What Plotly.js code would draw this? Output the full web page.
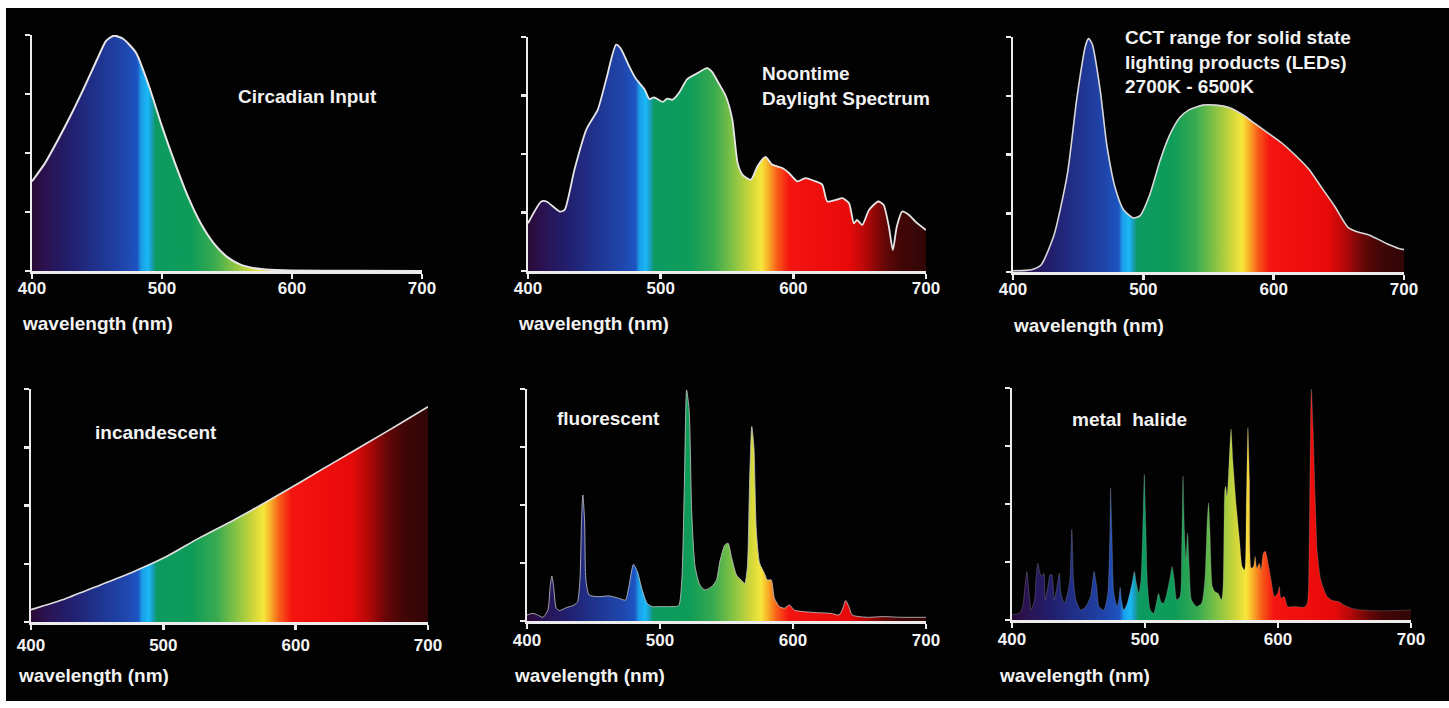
<!DOCTYPE html>
<html>
<head>
<meta charset="utf-8">
<script src="https://cdn.plot.ly/plotly-3.0.1.min.js"></script>
<style>html,body{margin:0;padding:0;background:#fff;}#chart{width:1449px;height:708px;}</style>
</head>
<body>
<div id="chart"></div>
<script>
// ---------- data (wavelength nm, relative intensity 0..1) ----------
const circadianWl  = [400,410,420,430,440,450,457,463,470,480,490,500,510,520,530,540,550,560,570,580,600,650,700];
const circadianVal = [0.38,0.457,0.556,0.662,0.776,0.896,0.975,0.997,0.984,0.925,0.783,0.613,0.457,0.315,0.2,0.116,0.06,0.028,0.013,0.006,0.002,0.001,0.0];

const daylightWl  = [400,410,414,424,427.6,435,444,452.6,459,466.4,470,476,481.5,487.7,491.5,495,501.5,505,509,514,520,526.6,535,539,544,549,554,558,561.6,568,573,579,584,591.7,596.7,603,609,616.8,621.8,625.6,632,637,642,645.6,648,652,657,664,668,672,675,678,682,687,692,700];
const daylightVal = [0.204,0.297,0.297,0.254,0.261,0.433,0.605,0.69,0.82,0.967,0.95,0.878,0.82,0.778,0.735,0.742,0.723,0.737,0.732,0.763,0.82,0.842,0.867,0.849,0.8,0.749,0.648,0.462,0.412,0.39,0.448,0.488,0.455,0.44,0.419,0.383,0.397,0.383,0.369,0.297,0.304,0.311,0.29,0.204,0.218,0.197,0.261,0.297,0.283,0.19,0.089,0.19,0.254,0.24,0.211,0.175];

const ledWl  = [400,414,421.5,431.6,441.8,449,455.7,458,460.8,467,472,478.5,484.8,492.4,497.5,505,512.6,520,527.8,535,545.6,555.7,565.8,576,586,596,606,616,626.6,636.7,646.8,657,664.6,672,680,687,696,700];
const ledVal = [0.005,0.01,0.03,0.16,0.42,0.74,0.965,0.993,0.97,0.77,0.54,0.356,0.265,0.23,0.24,0.33,0.47,0.58,0.656,0.69,0.71,0.71,0.70,0.67,0.63,0.59,0.55,0.50,0.44,0.36,0.28,0.19,0.17,0.16,0.14,0.12,0.10,0.095];

const incandWl  = [400,426,452,477,502,527,553,578,603.5,629,654,679,700];
const incandVal = [0.053,0.1,0.158,0.215,0.28,0.36,0.437,0.516,0.60,0.685,0.768,0.852,0.924];

const fluorWl  = [400,404.5,408,412,415.7,417.4,418.7,420,422,424.4,429.4,435.6,438,439.8,441,442,443.3,444.3,446.8,454,461.7,469,474,476.6,480,483,486.6,490.3,494,499,509,514,516.4,518.4,520,521.9,523.9,526.4,530,533.8,538.8,542.5,545,548.8,551.2,553.7,557.5,561,563.7,565.7,567.4,569,570.6,572.4,574.9,578.6,580.6,583.6,586,589.8,593.5,597.3,601,608.5,618.4,628.4,634.6,637,639.6,642,644.5,655.7,668,680.6,700];
const fluorVal = [0.026,0.033,0.026,0.016,0.047,0.148,0.194,0.148,0.055,0.045,0.057,0.069,0.083,0.177,0.435,0.543,0.435,0.177,0.112,0.105,0.108,0.098,0.09,0.148,0.244,0.213,0.134,0.076,0.062,0.062,0.062,0.066,0.177,0.608,0.996,0.91,0.464,0.234,0.155,0.134,0.148,0.177,0.256,0.328,0.335,0.277,0.198,0.177,0.162,0.234,0.608,0.838,0.75,0.392,0.249,0.205,0.177,0.177,0.098,0.062,0.055,0.069,0.047,0.04,0.036,0.033,0.026,0.047,0.088,0.062,0.026,0.016,0.019,0.016,0.016];

const halideWl  = [400,405.7,408,410,411.2,412.4,414.4,417,418,419.4,421,422.4,424,425,427,428.6,430,431.8,433.8,435.6,436.8,439.3,441.8,443.5,445,446.3,448,451.7,455.5,459,461.7,463.7,465.4,469,472,473.6,474.1,475.1,476.6,479,480.3,481.3,482.3,484,486.6,490.3,492,493.5,495.3,497,498.5,499.5,500.5,502,504,506.5,509,510.2,512,514,516.4,519,520.4,522,523.9,526.4,527.6,528.6,529.6,530.8,532,533.3,535,538.8,542.5,545,546.8,547.8,548.8,550.7,552.5,555,557.5,558.7,560,560.7,561.7,563.2,564.7,566.2,568.7,571.1,573.1,574.9,576.1,577.4,578.6,579.9,581.6,582.8,584.1,586,587.3,589,590.5,592.3,594.8,597.3,599.8,601,602.2,604.7,607.2,613.4,619.7,622,623.4,624.6,625.1,626.4,627.9,629.6,632.1,634.6,637,640.8,645.8,649.5,655.7,663.2,673,683,698,700];
const halideVal = [0.022,0.029,0.058,0.159,0.209,0.144,0.043,0.087,0.173,0.245,0.202,0.188,0.202,0.087,0.144,0.195,0.195,0.087,0.144,0.202,0.115,0.072,0.115,0.173,0.39,0.173,0.087,0.043,0.058,0.101,0.209,0.144,0.058,0.043,0.115,0.375,0.57,0.375,0.115,0.058,0.087,0.141,0.087,0.043,0.072,0.159,0.209,0.159,0.115,0.173,0.433,0.628,0.433,0.144,0.043,0.029,0.087,0.115,0.079,0.072,0.115,0.188,0.231,0.173,0.087,0.101,0.317,0.62,0.39,0.26,0.375,0.231,0.087,0.058,0.072,0.173,0.433,0.505,0.39,0.144,0.123,0.115,0.087,0.144,0.563,0.577,0.534,0.678,0.823,0.678,0.49,0.346,0.231,0.216,0.462,0.83,0.606,0.224,0.231,0.274,0.224,0.245,0.216,0.289,0.296,0.253,0.173,0.101,0.115,0.144,0.094,0.101,0.058,0.058,0.055,0.072,0.317,0.895,0.995,0.823,0.534,0.289,0.173,0.13,0.101,0.084,0.079,0.065,0.05,0.043,0.04,0.04,0.043,0.043];

const xTickVals = [400,500,600,700];
const xTickText = ['400','500','600','700'];
const yTickVals = [0,0.25,0.5,0.75,1];
const axisTitle = 'wavelength (nm)';
const panelTitles = ['Circadian Input','Noontime<br>Daylight Spectrum','CCT range for solid state<br>lighting products (LEDs)<br>2700K - 6500K','incandescent','fluorescent','metal\u00a0 halide'];

// ---------- styling ----------
const W = 1449, H = 708;
const px = x => x / W;
const py = y => 1 - y / H;

// spectrum colours (nm -> colour)
const spectrumStops = [[400,'#2a0a35'],[410,'#2b1250'],[430,'#221f6e'],[455,'#1f3794'],[472,'#1f47ae'],[481,'#1d55c2'],[484,'#1a9ee8'],[489,'#1ab8f6'],[492,'#1a9ec0'],[495,'#0d9a62'],[522,'#0f9c58'],[540,'#38aa50'],[555,'#86c344'],[568,'#cfd63a'],[576,'#f6e63a'],[581,'#f8b028'],[588,'#f85a18'],[597,'#f41410'],[642,'#e80a0a'],[655,'#b40808'],[668,'#6a0707'],[680,'#440606'],[700,'#300606']];
const colorscale = spectrumStops.map(s => [(s[0]-400)/300, s[1]]);

// panel pixel boxes: [xLeft(400nm), xRight(700nm), yBottom, yTop]
const boxes = [
  [32, 422, 271, 35],
  [528, 926, 271, 37],
  [1013, 1404, 272, 37],
  [31, 428, 622, 389],
  [527, 926, 621, 389],
  [1012, 1411, 620, 388]
];
const series = [
  [circadianWl, circadianVal, {color:'#e6e6e6', width:2}],
  [daylightWl, daylightVal, {color:'#e6e6e6', width:1.8}],
  [ledWl, ledVal, {color:'#d8d8d8', width:1.6}],
  [incandWl, incandVal, {color:'#e0e0e0', width:1.6}],
  [fluorWl, fluorVal, {color:'rgba(200,200,200,0.8)', width:1}],
  [halideWl, halideVal, {color:'rgba(190,190,190,0.35)', width:0.7}]
];
const titlePos = [ [236, 97], [760, 86], [1123, 62], [93, 432], [555, 418], [1070, 419] ];
const axisTitlePos = [ [20, 323], [516, 323], [1011, 325], [16, 675], [512, 675], [997, 675] ];
const tickStandoff = [-5, -5, -5, 1, -3, -3];

const axisColor = '#ececec';
const data = [];
const layout = {
  width: W, height: H,
  margin: {l:0, r:0, t:0, b:0},
  paper_bgcolor: '#ffffff',
  plot_bgcolor: 'rgba(0,0,0,0)',
  showlegend: false,
  hovermode: false,
  font: {family: 'Liberation Sans, Arial, sans-serif', color: '#f2f2f2'},
  shapes: [{type:'rect', xref:'paper', yref:'paper', x0:px(6), x1:1, y0:py(701), y1:py(8), fillcolor:'#020202', line:{width:0}, layer:'below'}],
  annotations: []
};

boxes.forEach((b, i) => {
  const n = i + 1;
  const xa = 'xaxis' + (n === 1 ? '' : n);
  const ya = 'yaxis' + (n === 1 ? '' : n);
  const s = series[i];
  data.push({
    type: 'scatter', mode: 'lines',
    x: s[0], y: s[1],
    xaxis: 'x' + (n === 1 ? '' : n), yaxis: 'y' + (n === 1 ? '' : n),
    line: {color: s[2].color, width: s[2].width, shape: 'spline', smoothing: 0.6},
    fill: 'tozeroy',
    fillgradient: {type: 'horizontal', start: 400, stop: 700, colorscale: colorscale}
  });
  layout[xa] = {
    domain: [px(b[0]), px(b[1])], range: [400, 700], anchor: 'y' + (n === 1 ? '' : n),
    showgrid: false, zeroline: false, showline: true, linecolor: axisColor, linewidth: 2.5,
    ticks: 'outside', ticklen: 5, tickwidth: 2.5, tickcolor: axisColor,
    tickmode: 'array', tickvals: xTickVals, ticktext: xTickText,
    ticklabelstandoff: tickStandoff[i],
    tickfont: {family: 'Liberation Sans, Arial, sans-serif', size: 17, color: '#f4f4f4', weight: 'bold'},
    fixedrange: true
  };
  layout[ya] = {
    domain: [py(b[2]), py(b[3])], range: [0, 1], anchor: 'x' + (n === 1 ? '' : n),
    showgrid: false, zeroline: false, showline: true, linecolor: axisColor, linewidth: 2.5,
    ticks: 'outside', ticklen: 5, tickwidth: 2.5, tickcolor: axisColor,
    tickmode: 'array', tickvals: yTickVals, showticklabels: false,
    fixedrange: true
  };
  layout.annotations.push({
    xref: 'paper', yref: 'paper', x: px(titlePos[i][0]), y: py(titlePos[i][1]),
    xanchor: 'left', yanchor: 'middle', align: 'left', showarrow: false,
    text: '<b>' + panelTitles[i] + '</b>',
    font: {size: 19, color: '#f2f2f2', family: 'Liberation Sans, Arial, sans-serif'}
  });
  layout.annotations.push({
    xref: 'paper', yref: 'paper', x: px(axisTitlePos[i][0]), y: py(axisTitlePos[i][1]),
    xanchor: 'left', yanchor: 'middle', showarrow: false,
    text: '<b>' + axisTitle + '</b>',
    font: {size: 19, color: '#f2f2f2', family: 'Liberation Sans, Arial, sans-serif'}
  });
});

Plotly.newPlot('chart', data, layout, {staticPlot: true, displayModeBar: false});
</script>
</body>
</html>
